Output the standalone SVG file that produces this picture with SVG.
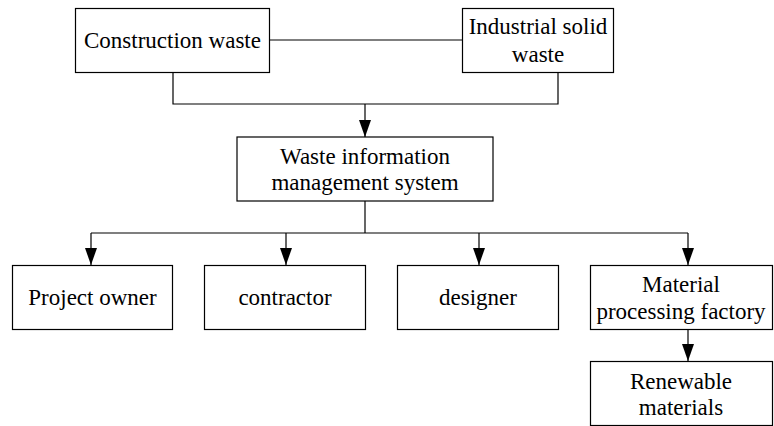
<svg xmlns="http://www.w3.org/2000/svg" width="774" height="426" viewBox="0 0 774 426">
<style>
.box{fill:#fff;stroke:#000;stroke-width:1.2}
.ln{fill:none;stroke:#000;stroke-width:1.2}
.t{font-family:'Liberation Serif','Times New Roman',serif;font-size:23px;fill:#000;text-anchor:middle}
</style>
<defs>
<marker id="ah" markerUnits="userSpaceOnUse" markerWidth="17" markerHeight="12" refX="17" refY="6" orient="auto">
<path d="M0,0 L17,6 L0,12 z" fill="#000"/>
</marker>
</defs>
<rect width="774" height="426" fill="#fff"/>
<g id="connectors">
<path class="ln" d="M269,40 H462"/>
<path class="ln" d="M173,72 V104 H558 V72"/>
<path class="ln" d="M365,104 V137" marker-end="url(#ah)"/>
<path class="ln" d="M365,201 V233"/>
<path class="ln" d="M91,233 H688"/>
<path class="ln" d="M91,233 V265" marker-end="url(#ah)"/>
<path class="ln" d="M286,233 V265" marker-end="url(#ah)"/>
<path class="ln" d="M479,233 V265" marker-end="url(#ah)"/>
<path class="ln" d="M688,233 V265" marker-end="url(#ah)"/>
<path class="ln" d="M688,329 V361" marker-end="url(#ah)"/>
</g>
<g id="construction">
<rect class="box" x="75.5" y="8.5" width="194" height="64"/>
<text class="t" x="172.5" y="48">Construction waste</text>
</g>
<g id="industrial">
<rect class="box" x="462.5" y="8.5" width="151" height="64"/>
<text class="t" x="538" y="34">Industrial solid</text>
<text class="t" x="538" y="61.5">waste</text>
</g>
<g id="wims">
<rect class="box" x="237" y="137" width="256" height="64"/>
<text class="t" x="365" y="163.5">Waste information</text>
<text class="t" x="365" y="189.5">management system</text>
</g>
<g id="owner">
<rect class="box" x="12.5" y="265.5" width="160" height="64"/>
<text class="t" x="92.5" y="304.5">Project owner</text>
</g>
<g id="contractor">
<rect class="box" x="204.5" y="265.5" width="161" height="64"/>
<text class="t" x="285" y="304.5">contractor</text>
</g>
<g id="designer">
<rect class="box" x="397.5" y="265.5" width="161" height="64"/>
<text class="t" x="478" y="304.5">designer</text>
</g>
<g id="factory">
<rect class="box" x="590.5" y="265.5" width="182" height="64"/>
<text class="t" x="681" y="292">Material</text>
<text class="t" x="681" y="318.5">processing factory</text>
</g>
<g id="renewable">
<rect class="box" x="590.5" y="361.5" width="182" height="64"/>
<text class="t" x="681" y="388.5">Renewable</text>
<text class="t" x="681" y="414.5">materials</text>
</g>
</svg>
